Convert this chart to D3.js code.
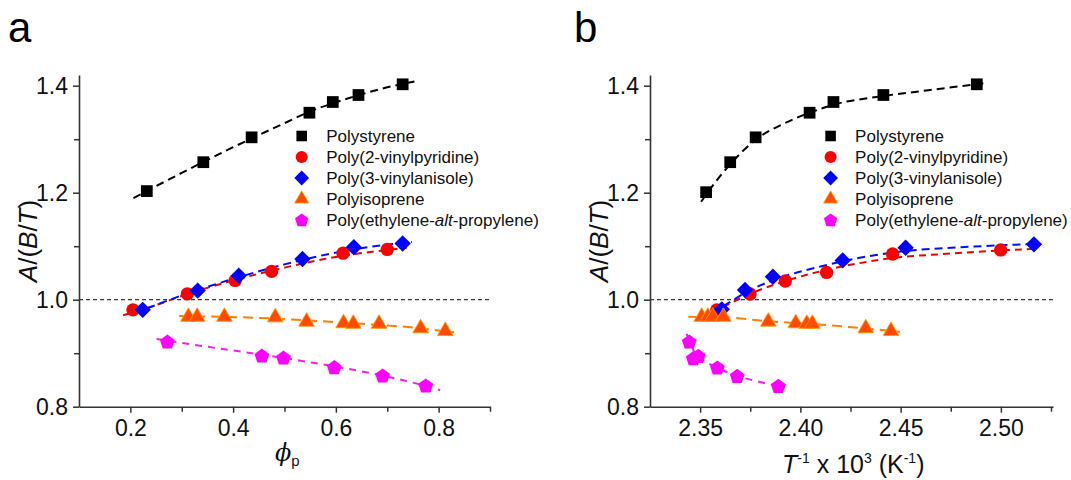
<!DOCTYPE html>
<html>
<head>
<meta charset="utf-8">
<script src="https://cdn.jsdelivr.net/npm/d3@7"></script>
<style>
  body { margin: 0; background: #fff; }
  svg { display: block; font-family: "Liberation Sans", Arial, sans-serif; }
</style>
</head>
<body>
<svg id="chart" width="1071" height="480"></svg>
<script>
// ---- series names (legend order) ----
const seriesNames = [
  "Polystyrene",
  "Poly(2-vinylpyridine)",
  "Poly(3-vinylanisole)",
  "Polyisoprene",
  "Poly(ethylene-alt-propylene)"
];

// ---- panel a: A/(B/T) vs polymer volume fraction phi_p ----
const psA   = [[0.232,1.203],[0.342,1.257],[0.436,1.3035],[0.5485,1.3495],[0.594,1.3695],[0.644,1.3826],[0.730,1.4026]];
const p2vpA = [[0.205,0.981],[0.311,1.011],[0.404,1.036],[0.475,1.053],[0.614,1.087],[0.700,1.094]];
const p3vaA = [[0.224,0.981],[0.331,1.017],[0.411,1.045],[0.535,1.076],[0.635,1.098],[0.730,1.105]];
const piA   = [[0.313,0.968],[0.330,0.968],[0.383,0.968],[0.482,0.967],[0.543,0.959],[0.615,0.956],[0.634,0.955],[0.684,0.955],[0.765,0.9465],[0.813,0.9415]];
const pepA  = [[0.272,0.9215],[0.456,0.8953],[0.498,0.8916],[0.597,0.8736],[0.691,0.858],[0.775,0.8393]];

// dashed guide curves, panel a
const psFitA   = [[0.206,1.190],[0.30,1.237],[0.40,1.285],[0.50,1.330],[0.55,1.352],[0.60,1.369],[0.65,1.384],[0.70,1.397],[0.753,1.408]];
const p2vpFitA = [[0.186,0.971],[0.25,0.990],[0.30,1.007],[0.40,1.036],[0.50,1.060],[0.60,1.080],[0.70,1.093],[0.738,1.097]];
const p3vaFitA = [[0.209,0.975],[0.30,1.008],[0.40,1.039],[0.50,1.066],[0.60,1.088],[0.70,1.103],[0.748,1.108]];
const piFitA   = [[0.295,0.9695],[0.45,0.966],[0.55,0.961],[0.65,0.955],[0.75,0.948],[0.830,0.939]];
const pepFitA  = [[0.251,0.9265],[0.35,0.912],[0.45,0.898],[0.55,0.883],[0.65,0.866],[0.75,0.845],[0.803,0.831]];

// ---- panel b: A/(B/T) vs inverse temperature ----
const psB   = [[2.353,1.201],[2.365,1.257],[2.3777,1.3035],[2.4046,1.3495],[2.4165,1.3695],[2.4414,1.3826],[2.488,1.4026]];
const p2vpB = [[2.3583,0.981],[2.3749,1.0107],[2.3925,1.035],[2.4131,1.051],[2.446,1.0854],[2.4999,1.093]];
const p3vaB = [[2.3608,0.982],[2.3724,1.018],[2.3863,1.043],[2.4211,1.0735],[2.4525,1.0972],[2.5165,1.1035]];
const piB   = [[2.3508,0.968],[2.3538,0.968],[2.3563,0.968],[2.3616,0.968],[2.384,0.959],[2.3977,0.956],[2.4032,0.955],[2.406,0.955],[2.4326,0.9465],[2.4452,0.9415]];
const pepB  = [[2.3446,0.9215],[2.3466,0.8905],[2.3491,0.8948],[2.3586,0.873],[2.3685,0.8574],[2.389,0.8387]];

// dashed guide curves, panel b
const psFitB   = [[2.3505,1.183],[2.3535,1.199],[2.365,1.253],[2.378,1.300],[2.39,1.326],[2.405,1.350],[2.417,1.365],[2.44,1.380],[2.465,1.392],[2.4936,1.4056]];
const p2vpFitB = [[2.3563,0.9745],[2.365,0.993],[2.375,1.011],[2.39,1.032],[2.41,1.053],[2.429,1.068],[2.446,1.078],[2.47,1.085],[2.50,1.092],[2.5156,1.095]];
const p3vaFitB = [[2.3563,0.9745],[2.365,0.996],[2.375,1.018],[2.39,1.041],[2.41,1.062],[2.429,1.078],[2.45,1.090],[2.48,1.098],[2.5164,1.104]];
const piFitB   = [[2.3441,0.968],[2.362,0.967],[2.384,0.9595],[2.405,0.955],[2.43,0.947],[2.4497,0.940]];
const pepFitB  = [[2.3433,0.936],[2.3455,0.915],[2.3475,0.900],[2.352,0.886],[2.359,0.872],[2.369,0.857],[2.38,0.846],[2.3923,0.836]];

// ---- axis ticks ----
const yMajor = [0.8, 1.0, 1.2, 1.4];
const yMinor = [0.9, 1.1, 1.3];
const xMajorA = [0.2, 0.4, 0.6, 0.8];
const xMinorA = [0.3, 0.5, 0.7, 0.9];
const xMajorB = [2.35, 2.40, 2.45, 2.50];
const xMinorB = [2.375, 2.425, 2.475, 2.525];

// ---- styling ----
const markerFill   = ["#000000", "#ff0000", "#0000ff", "#ff4a00", "#ff00ff"];
const markerStroke = ["none", "none", "none", "#ff9a00", "none"];
const lineColor    = ["#000000", "#f00000", "#0010ff", "#ff7f00", "#f020f0"];
const lineDash     = ["8,5", "7,5", "8,5", "10,6", "7,6"];
const markerKind   = ["square", "circle", "diamond", "triangle", "pentagon"];

const svg = d3.select("#chart");

const yTop = 75, yBottom = 406.7;
const y = d3.scaleLinear().domain([0.8, 1.42]).range([yBottom, yTop]);

function markerPath(kind) {
  if (kind === "square") return d3.symbol(d3.symbolSquare, 138)();
  if (kind === "circle") return d3.symbol(d3.symbolCircle, 140)();
  if (kind === "triangle") return d3.symbol(d3.symbolTriangle, 105)();
  if (kind === "diamond") {
    const r = 8.2;
    return `M0,${-r}L${r},0L0,${r}L${-r},0Z`;
  }
  // pentagon
  const r = 7.8;
  const pts = d3.range(5).map(i => {
    const a = -Math.PI / 2 + i * 2 * Math.PI / 5;
    return [r * Math.cos(a), r * Math.sin(a) + 0.6];
  });
  return d3.line()(pts) + "Z";
}

function drawPanel(opts) {
  const g = svg.append("g");
  const x = d3.scaleLinear().domain(opts.xDomain).range(opts.xRange);

  // reference line at A/(B/T) = 1
  g.append("line")
    .attr("x1", opts.xRange[0]).attr("x2", opts.xRange[1])
    .attr("y1", y(1.0)).attr("y2", y(1.0))
    .attr("stroke", "#3a3a3a").attr("stroke-width", 1.3)
    .attr("stroke-dasharray", "4,3");

  // minor ticks
  g.append("g")
    .attr("transform", `translate(0,${yBottom})`)
    .call(d3.axisBottom(x).tickValues(opts.xMinor).tickSize(5).tickFormat(""))
    .call(s => s.select(".domain").remove())
    .call(s => s.selectAll("line").attr("stroke", "#333").attr("stroke-width", 1.5));
  g.append("g")
    .attr("transform", `translate(${opts.xRange[0]},0)`)
    .call(d3.axisLeft(y).tickValues(yMinor).tickSize(5).tickFormat(""))
    .call(s => s.select(".domain").remove())
    .call(s => s.selectAll("line").attr("stroke", "#333").attr("stroke-width", 1.5));

  // major axes
  const xa = g.append("g")
    .attr("transform", `translate(0,${yBottom})`)
    .call(d3.axisBottom(x).tickValues(opts.xMajor).tickSize(6).tickSizeOuter(0)
      .tickPadding(7).tickFormat(d3.format(opts.xFormat)));
  const ya = g.append("g")
    .attr("transform", `translate(${opts.xRange[0]},0)`)
    .call(d3.axisLeft(y).tickValues(yMajor).tickSize(6).tickSizeOuter(0)
      .tickPadding(5).tickFormat(d3.format(".1f")));
  [xa, ya].forEach(a => {
    a.select(".domain").attr("stroke", "#333").attr("stroke-width", 1.6);
    a.selectAll(".tick line").attr("stroke", "#333").attr("stroke-width", 1.5);
    a.selectAll(".tick text").attr("fill", "#111")
      .style("font-size", "23px").style("font-family", "\"Liberation Sans\", Arial, sans-serif");
  });

  // dashed guide curves
  const line = d3.line().x(d => x(d[0])).y(d => y(d[1])).curve(d3.curveMonotoneX);
  opts.fits.forEach((f, i) => {
    g.append("path").datum(f)
      .attr("d", line)
      .attr("fill", "none")
      .attr("stroke", lineColor[i])
      .attr("stroke-width", 2)
      .attr("stroke-dasharray", lineDash[i]);
  });

  // data markers
  opts.series.forEach((s, i) => {
    g.append("g").selectAll("path").data(s).join("path")
      .attr("d", markerPath(markerKind[i]))
      .attr("transform", d => `translate(${x(d[0])},${y(d[1])})`)
      .attr("fill", markerFill[i])
      .attr("stroke", markerStroke[i])
      .attr("stroke-width", 0.9);
  });

  // legend
  const lg = g.append("g");
  seriesNames.forEach((name, i) => {
    const ly = opts.legendY + i * 21;
    lg.append("path")
      .attr("d", markerPath(markerKind[i]))
      .attr("transform", `translate(${opts.legendX},${ly}) scale(0.9)`)
      .attr("fill", markerFill[i])
      .attr("stroke", markerStroke[i])
      .attr("stroke-width", 0.9);
    const t = lg.append("text")
      .attr("x", opts.legendX + 24.5).attr("y", ly + 6)
      .attr("fill", "#111")
      .style("font-size", "17px");
    const m = name.match(/^(.*-)(alt)(-.*)$/);
    if (m) {
      t.append("tspan").text(m[1]);
      t.append("tspan").style("font-style", "italic").text(m[2]);
      t.append("tspan").text(m[3]);
    } else {
      t.text(name);
    }
  });

  // y-axis title A/(B/T)
  const yt = g.append("text")
    .attr("transform", `translate(${opts.xRange[0] - 42},${241}) rotate(-90)`)
    .attr("text-anchor", "middle")
    .attr("fill", "#111")
    .style("font-size", "26px");
  yt.append("tspan").style("font-style", "italic").text("A");
  yt.append("tspan").text("/(");
  yt.append("tspan").style("font-style", "italic").text("B");
  yt.append("tspan").text("/");
  yt.append("tspan").style("font-style", "italic").text("T");
  yt.append("tspan").text(")");

  // panel letter
  g.append("text")
    .attr("x", opts.letterX).attr("y", 41.5)
    .attr("fill", "#000")
    .style("font-size", "42px")
    .text(opts.letter);

  return { g, x };
}

// panel a
const pa = drawPanel({
  xDomain: [0.1, 0.9], xRange: [79, 490],
  xMajor: xMajorA, xMinor: xMinorA, xFormat: ".1f",
  series: [psA, p2vpA, p3vaA, piA, pepA],
  fits: [psFitA, p2vpFitA, p3vaFitA, piFitA, pepFitA],
  legendX: 301.7, legendY: 136,
  letter: "a", letterX: 8
});

// x-axis title, panel a: phi_p
const xta = pa.g.append("text")
  .attr("x", 275).attr("y", 461)
  .attr("fill", "#111");
xta.append("tspan").style("font-size", "24px").style("font-style", "italic")
  .style("font-family", "\"DejaVu Serif\", serif").text("\u03d5");
xta.append("tspan").style("font-size", "15px").attr("dy", 5).text("p");

// panel b
const pb = drawPanel({
  xDomain: [2.325, 2.526], xRange: [650, 1053],
  xMajor: xMajorB, xMinor: xMinorB, xFormat: ".2f",
  series: [psB, p2vpB, p3vaB, piB, pepB],
  fits: [psFitB, p2vpFitB, p3vaFitB, piFitB, pepFitB],
  legendX: 830.6, legendY: 136,
  letter: "b", letterX: 574
});

// x-axis title, panel b: T^-1 x 10^3 (K^-1)
const xtb = pb.g.append("text")
  .attr("x", 782).attr("y", 473)
  .attr("fill", "#111")
  .style("font-size", "25px");
xtb.append("tspan").style("font-style", "italic").text("T");
xtb.append("tspan").style("font-size", "14px").attr("dy", -10).text("-1");
xtb.append("tspan").attr("dy", 10).text(" x 10");
xtb.append("tspan").style("font-size", "14px").attr("dy", -10).text("3");
xtb.append("tspan").attr("dy", 10).text(" (K");
xtb.append("tspan").style("font-size", "14px").attr("dy", -10).text("-1");
xtb.append("tspan").attr("dy", 10).text(")");
</script>
</body>
</html>
